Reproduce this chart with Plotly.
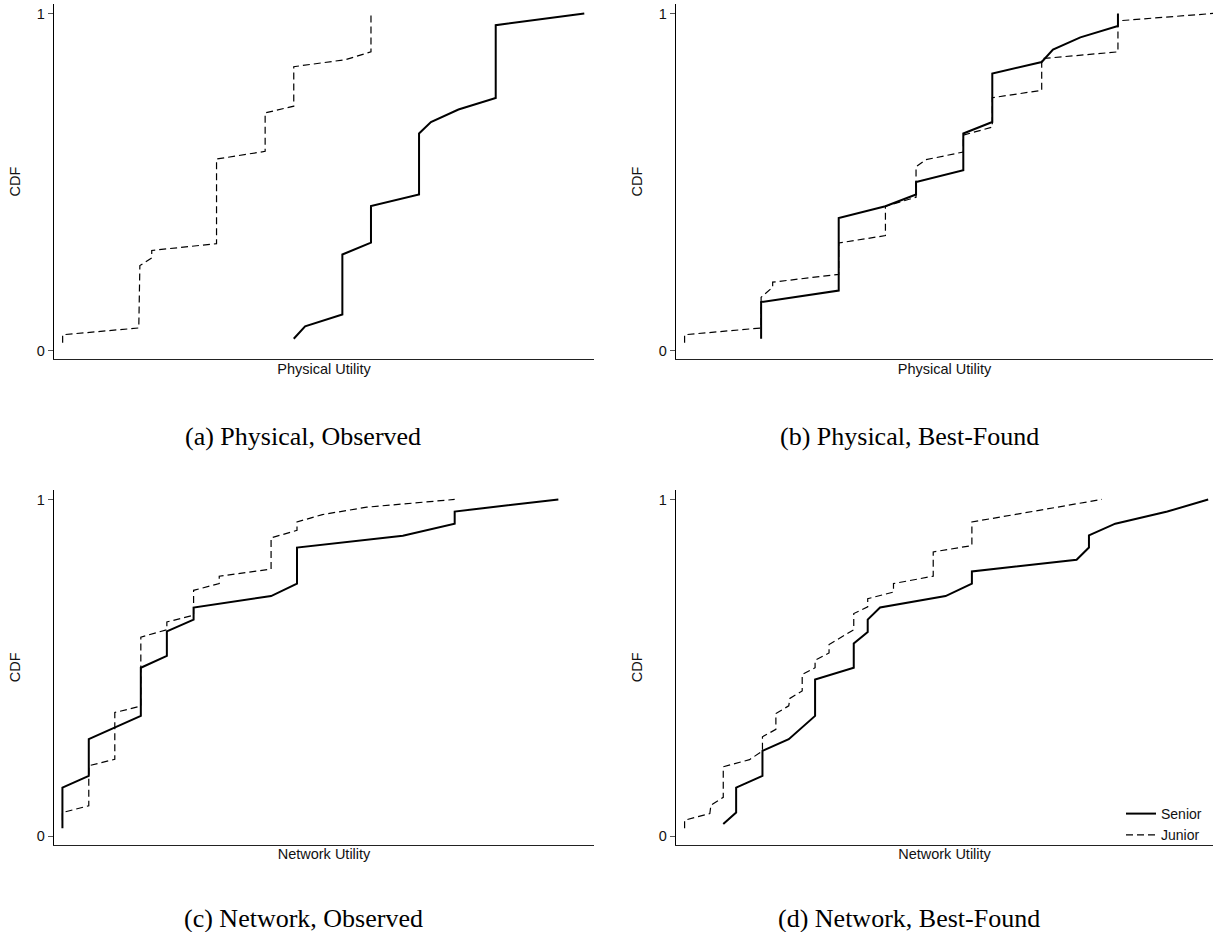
import plotly.graph_objects as go

W, H = 1213, 932

# ---------------- data (utility in arbitrary units 0-100, CDF 0-1) ----------------
# (a) Physical, Observed
a_senior_x = [44.4, 46.5, 53.4, 53.4, 58.7, 58.7, 67.6, 67.6, 69.8, 74.9, 81.8, 81.8, 98.2]
a_senior_y = [0.035, 0.072, 0.107, 0.285, 0.320, 0.429, 0.463, 0.644, 0.678, 0.715, 0.749, 0.965, 1.0]
a_junior_x = [1.6, 1.6, 15.7, 15.9, 18.1, 18.1, 30.1, 30.1, 39.1, 39.1, 44.4, 44.4, 54.0, 58.7, 58.7]
a_junior_y = [0.023, 0.047, 0.067, 0.252, 0.275, 0.297, 0.317, 0.568, 0.591, 0.705, 0.725, 0.842, 0.863, 0.886, 1.0]

# (b) Physical, Best-Found
b_senior_x = [15.85, 15.85, 30.3, 30.3, 39.0, 44.7, 44.7, 53.5, 53.5, 58.9, 58.9, 68.1, 70.2, 75.3, 82.3, 82.3]
b_senior_y = [0.035, 0.144, 0.178, 0.393, 0.428, 0.463, 0.500, 0.535, 0.644, 0.678, 0.822, 0.856, 0.893, 0.929, 0.963, 1.0]
b_junior_x = [1.6, 1.6, 15.85, 15.85, 18.0, 18.0, 30.3, 30.3, 39.0, 39.0, 44.7, 44.7, 46.5, 53.5, 53.5, 58.9, 58.9, 68.1, 68.1, 82.3, 82.3, 100.0]
b_junior_y = [0.023, 0.047, 0.067, 0.158, 0.188, 0.203, 0.226, 0.319, 0.341, 0.428, 0.455, 0.545, 0.566, 0.589, 0.639, 0.663, 0.750, 0.772, 0.866, 0.886, 0.978, 1.0]

# (c) Network, Observed
c_senior_x = [1.56, 1.56, 6.44, 6.44, 16.08, 16.08, 20.9, 20.9, 25.85, 25.85, 40.2, 45.0, 45.0, 64.6, 74.2, 74.2, 93.4]
c_senior_y = [0.023, 0.144, 0.179, 0.288, 0.357, 0.500, 0.535, 0.608, 0.643, 0.679, 0.713, 0.750, 0.857, 0.892, 0.928, 0.964, 1.0]
c_junior_x = [1.56, 1.56, 6.44, 6.44, 11.26, 11.26, 16.08, 16.08, 20.9, 20.9, 25.85, 25.85, 30.6, 30.6, 40.2, 40.2, 45.0, 45.0, 49.7, 57.9, 74.2]
c_junior_y = [0.047, 0.070, 0.090, 0.209, 0.228, 0.367, 0.386, 0.591, 0.613, 0.636, 0.656, 0.730, 0.750, 0.772, 0.793, 0.886, 0.908, 0.933, 0.955, 0.977, 1.0]

# (d) Network, Best-Found
d_senior_x = [8.8, 11.2, 11.2, 16.1, 16.1, 21.0, 25.9, 25.9, 33.1, 33.1, 35.7, 35.7, 38.0, 50.2, 55.1, 55.1, 74.6, 76.9, 76.9, 81.8, 91.5, 99.1]
d_senior_y = [0.036, 0.070, 0.144, 0.179, 0.253, 0.288, 0.357, 0.465, 0.500, 0.572, 0.606, 0.643, 0.679, 0.713, 0.750, 0.786, 0.821, 0.857, 0.893, 0.928, 0.964, 1.0]
d_junior_x = [1.6, 1.6, 6.3, 6.5, 8.8, 8.8, 13.7, 16.1, 16.1, 18.6, 18.6, 21.0, 21.2, 23.5, 23.5, 25.9, 25.9, 28.5, 28.5, 33.1, 33.1, 35.7, 35.7, 40.5, 40.5, 47.9, 47.9, 55.1, 55.1, 79.3]
d_junior_y = [0.023, 0.047, 0.067, 0.092, 0.115, 0.206, 0.227, 0.253, 0.295, 0.317, 0.364, 0.387, 0.409, 0.431, 0.480, 0.500, 0.522, 0.544, 0.569, 0.613, 0.661, 0.681, 0.705, 0.725, 0.750, 0.772, 0.844, 0.863, 0.933, 1.0]

panels = [
    ("(a) Physical, Observed", "Physical Utility", a_senior_x, a_senior_y, a_junior_x, a_junior_y),
    ("(b) Physical, Best-Found", "Physical Utility", b_senior_x, b_senior_y, b_junior_x, b_junior_y),
    ("(c) Network, Observed", "Network Utility", c_senior_x, c_senior_y, c_junior_x, c_junior_y),
    ("(d) Network, Best-Found", "Network Utility", d_senior_x, d_senior_y, d_junior_x, d_junior_y),
]
series_names = ["Senior", "Junior"]
y_ticks = [0, 1]

# ---------------- layout geometry (pixels) ----------------
x_doms = [(54, 594), (676, 1213), (54, 594), (676, 1213)]
y_doms = [(4, 359), (4, 359), (490, 844.5), (490, 844.5)]
cap_pos = [(303, 436), (909, 436), (303, 918), (909, 918)]

AX_FONT = dict(family="Liberation Sans, Arial, sans-serif", size=14.5, color="#111")

fig = go.Figure()
layout = dict(
    width=W, height=H,
    margin=dict(l=0, r=0, t=0, b=0),
    paper_bgcolor="white", plot_bgcolor="white",
    showlegend=True,
    legend=dict(x=1121 / W, y=1 - 798 / H, xanchor="left", yanchor="top",
                bgcolor="rgba(0,0,0,0)", borderwidth=0,
                font=dict(family="Liberation Sans, Arial, sans-serif", size=14, color="#111"),
                tracegroupgap=0, itemwidth=30),
    annotations=[],
)

for i, (cap, xtitle, sx, sy, jx, jy) in enumerate(panels):
    k = "" if i == 0 else str(i + 1)
    xa, ya = "x" + k, "y" + k
    show = (i == 3)
    fig.add_trace(go.Scatter(x=sx, y=sy, mode="lines", name=series_names[0],
                             line=dict(color="black", width=2), xaxis=xa, yaxis=ya,
                             showlegend=show, legendrank=1))
    fig.add_trace(go.Scatter(x=jx, y=jy, mode="lines", name=series_names[1],
                             line=dict(color="black", width=1.2, dash="7px,4px"), xaxis=xa, yaxis=ya,
                             showlegend=show, legendrank=2))
    x0, x1 = x_doms[i]
    yt, yb = y_doms[i]
    layout["xaxis" + k] = dict(
        domain=[x0 / W, x1 / W], range=[0, 100], anchor=ya,
        showgrid=False, zeroline=False, showticklabels=False, ticks="",
        showline=True, linecolor="#222", linewidth=1.3,
        title=dict(text=xtitle, font=AX_FONT, standoff=4),
        fixedrange=True,
    )
    layout["yaxis" + k] = dict(
        domain=[1 - yb / H, 1 - yt / H], range=[-0.025, 1.028], anchor=xa,
        showgrid=False, zeroline=False,
        tickvals=y_ticks, ticktext=[str(v) for v in y_ticks],
        ticks="outside", ticklen=5, tickwidth=1, tickcolor="#555",
        tickfont=AX_FONT,
        showline=True, linecolor="#000", linewidth=1.3,
        title=dict(text="CDF", font=AX_FONT, standoff=12),
        fixedrange=True,
    )
    cx, cy = cap_pos[i]
    layout["annotations"].append(dict(
        text=cap, x=cx / W, y=1 - cy / H, xref="paper", yref="paper",
        xanchor="center", yanchor="middle", showarrow=False,
        font=dict(family="Liberation Serif, Times New Roman, serif", size=26, color="#000"),
    ))

fig.update_layout(**layout)
fig.write_html("out.html",
               config={"displayModeBar": False, "staticPlot": True},
               post_script="document.body.style.margin='0';document.body.style.overflow='hidden';")
